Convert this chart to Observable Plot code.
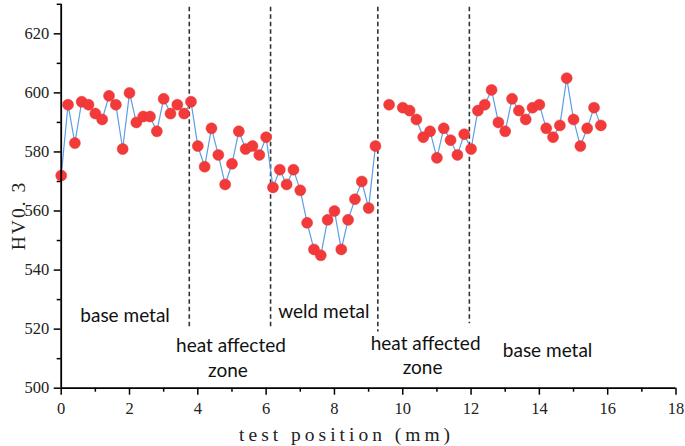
<!DOCTYPE html>
<html><head><meta charset="utf-8">
<script src="https://cdn.jsdelivr.net/npm/d3@7"></script>
<script src="https://cdn.jsdelivr.net/npm/@observablehq/plot@0.6"></script>
<style>body{margin:0;background:#fff}</style>
</head><body><div id="chart"></div>
<script>
// test positions (mm)
const positions = [
  0.0, 0.2, 0.4, 0.6, 0.8, 1.0, 1.2, 1.4, 1.6, 1.8,
  2.0, 2.2, 2.4, 2.6, 2.8, 3.0, 3.2, 3.4, 3.6, 3.8,
  4.0, 4.2, 4.4, 4.6, 4.8, 5.0, 5.2, 5.4, 5.6, 5.8,
  6.0, 6.2, 6.4, 6.6, 6.8, 7.0, 7.2, 7.4, 7.6, 7.8,
  8.0, 8.2, 8.4, 8.6, 8.8, 9.0, 9.2, 9.4, 9.6, 9.8,
  10.0, 10.2, 10.4, 10.6, 10.8, 11.0, 11.2, 11.4, 11.6, 11.8,
  12.0, 12.2, 12.4, 12.6, 12.8, 13.0, 13.2, 13.4, 13.6, 13.8,
  14.0, 14.2, 14.4, 14.6, 14.8, 15.0, 15.2, 15.4, 15.6, 15.8
];
// hardness HV0.3 (null = no measurement)
const hardness = [
  572, 596, 583, 597, 596, 593, 591, 599, 596, 581,
  600, 590, 592, 592, 587, 598, 593, 596, 593, 597,
  582, 575, 588, 579, 569, 576, 587, 581, 582, 579,
  585, 568, 574, 569, 574, 567, 556, 547, 545, 557,
  560, 547, 557, 564, 570, 561, 582, null, 596, null,
  595, 594, 591, 585, 587, 578, 588, 584, 579, 586,
  581, 594, 596, 601, 590, 587, 598, 594, 591, 595,
  596, 588, 585, 589, 605, 591, 582, 588, 595, 589
];
// zone boundaries (mm) and where each dashed line ends (HV)
const boundaries = [3.75, 6.13, 9.27, 11.95];
const boundaryBottoms = [520.7, 520.7, 519.0, 521.8];
// zone labels
const zoneLabels = ["base metal", "heat affected", "zone", "weld metal", "heat affected", "zone", "base metal"];
const zoneLabelX = [1.87, 4.97, 4.88, 7.69, 10.67, 10.58, 14.24];
const zoneLabelY = [522.35, 512.19, 503.96, 523.84, 513.0, 504.88, 510.5];
// ticks
const xMajorTicks = [0, 2, 4, 6, 8, 10, 12, 14, 16, 18];
const xMinorTicks = [1, 3, 5, 7, 9, 11, 13, 15, 17];
const yMajorTicks = [500, 520, 540, 560, 580, 600, 620];
const yMinorTicks = [510, 530, 550, 570, 590, 610, 630];
const xTitle = "test position (mm)";
const yTitle = "HV0. 3";

const data = positions.map((p, i) => ({pos: p, hv: hardness[i]}));
const bounds = boundaries.map((b, i) => ({x: b, bottom: boundaryBottoms[i]}));
const labels = zoneLabels.map((t, i) => ({text: t, x: zoneLabelX[i], y: zoneLabelY[i]}));

const axisFont = "Liberation Serif";

const chart = Plot.plot({
  width: 685,
  height: 446,
  marginLeft: 60.7,
  marginRight: 9.5,
  marginTop: 3.8,
  marginBottom: 58.3,
  style: {background: "#fff", color: "#000", fontFamily: axisFont, fontSize: "16.5px"},
  x: {domain: [0, 18]},
  y: {domain: [500, 630]},
  marks: [
    Plot.axisX({ticks: xMajorTicks, tickSize: 7, tickPadding: 7, strokeWidth: 1.5, fontSize: 16.5, fontFamily: axisFont, fill: "#222", tickFormat: d => String(d), label: null}),
    Plot.axisX({ticks: xMinorTicks, tickSize: 4, strokeWidth: 1.5, tickFormat: () => "", label: null}),
    Plot.axisY({ticks: yMajorTicks, tickSize: 7, tickPadding: 5, strokeWidth: 1.5, fontSize: 16.5, fontFamily: axisFont, fill: "#222", label: null}),
    Plot.axisY({ticks: yMinorTicks, tickSize: 4, strokeWidth: 1.5, tickFormat: () => "", label: null}),
    Plot.ruleX(bounds, {x: "x", y1: 629, y2: "bottom", stroke: "#333", strokeWidth: 1.6, strokeDasharray: "4.5,3"}),
    Plot.line(data, {x: "pos", y: "hv", stroke: "#5b9ee6", strokeWidth: 1.2}),
    Plot.dot(data, {x: "pos", y: "hv", r: 5.5, fill: "#f23a3a", stroke: "#e83030", strokeWidth: 0.5}),
    Plot.text(labels, {x: "x", y: "y", text: "text", fontFamily: "Lato", fontSize: 19, lineAnchor: "bottom", textAnchor: "middle", fill: "#111"}),
    Plot.ruleX([0], {y1: 500, y2: 630, stroke: "#000", strokeWidth: 1.8}),
    Plot.ruleY([500], {x1: 0, x2: 18, stroke: "#000", strokeWidth: 1.8}),
    Plot.text([xTitle], {frameAnchor: "bottom", lineAnchor: "bottom", textAnchor: "middle", dx: -22, dy: 53, fontFamily: axisFont, fontSize: 19.5, fill: "#222"}),
    Plot.text([yTitle], {frameAnchor: "left", lineAnchor: "middle", textAnchor: "start", rotate: -90, dx: -42, dy: 54, fontFamily: axisFont, fontSize: 19.5, fill: "#222"})
  ]
});
d3.select(chart).selectAll("text").each(function() {
  const t = this.textContent;
  if (t === xTitle) this.setAttribute("letter-spacing", "4px");
  if (t === yTitle) this.setAttribute("letter-spacing", "2px");
});
document.getElementById("chart").append(chart);
</script>
</body></html>
